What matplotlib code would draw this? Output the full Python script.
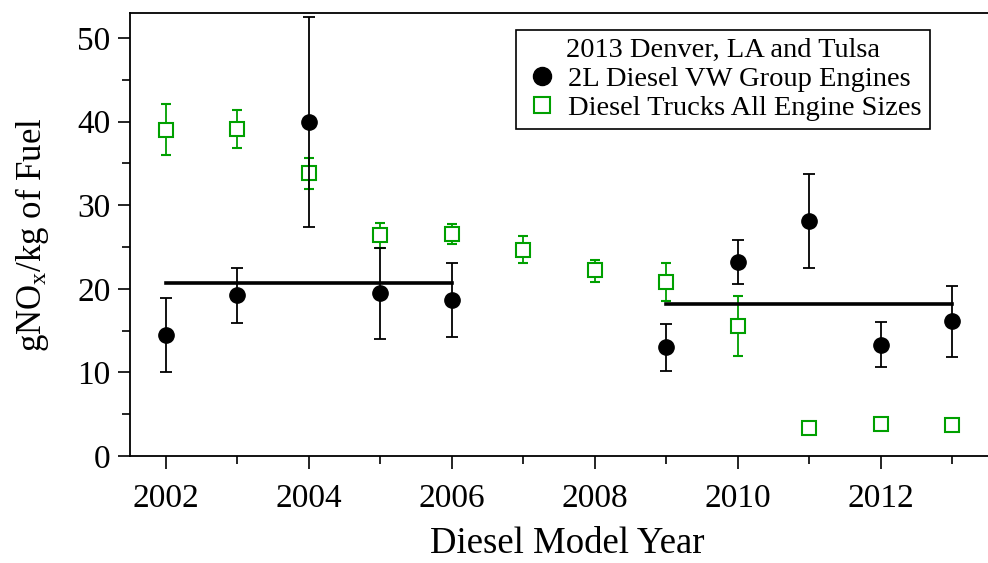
import matplotlib
matplotlib.use("Agg")
import matplotlib.pyplot as plt
from matplotlib.lines import Line2D
from matplotlib.ticker import MultipleLocator

plt.rcParams["font.family"] = ["Liberation Serif", "DejaVu Serif"]
plt.rcParams["mathtext.fontset"] = "custom"
plt.rcParams["mathtext.rm"] = "Liberation Serif"
plt.rcParams["mathtext.it"] = "Liberation Serif:italic"

# 2L diesel VW group engines (mean, lower end, upper end of error bar)
vw_years = [2002, 2003, 2004, 2005, 2006, 2009, 2010, 2011, 2012, 2013]
vw_nox = [14.5, 19.25, 39.9, 19.45, 18.65, 13.05, 23.25, 28.15, 13.3, 16.1]
vw_low = [10.0, 15.95, 27.4, 14.0, 14.2, 10.2, 20.6, 22.5, 10.6, 11.9]
vw_high = [18.9, 22.45, 52.5, 24.9, 23.1, 15.8, 25.8, 33.7, 16.0, 20.3]

# diesel trucks, all engine sizes
truck_years = [2002, 2003, 2004, 2005, 2006, 2007, 2008, 2009, 2010, 2011, 2012, 2013]
truck_nox = [39.05, 39.1, 33.8, 26.4, 26.6, 24.7, 22.2, 20.8, 15.55, 3.3, 3.85, 3.75]
truck_low = [36.0, 36.8, 32.0, 24.9, 25.4, 23.05, 20.85, 18.5, 12.0, 3.1, 3.65, 3.45]
truck_high = [42.05, 41.4, 35.6, 27.9, 27.8, 26.3, 23.5, 23.1, 19.1, 3.5, 4.05, 4.05]

# group means
mean_spans = [(2002, 2006), (2009, 2013)]
mean_values = [20.65, 18.2]

green = "#00A000"

fig = plt.figure(figsize=(9.88, 5.63), dpi=100)
ax = fig.add_axes([0.1316, 0.19, 0.8684, 0.787])

t_err = [[m - lo for m, lo in zip(truck_nox, truck_low)],
         [hi - m for m, hi in zip(truck_nox, truck_high)]]
ax.errorbar(truck_years, truck_nox, yerr=t_err, fmt="s", color=green,
            mfc="white", mec=green, ms=10, mew=1.5, elinewidth=1.3,
            capsize=3.8, capthick=1.3, zorder=3)

v_err = [[m - lo for m, lo in zip(vw_nox, vw_low)],
         [hi - m for m, hi in zip(vw_nox, vw_high)]]
ax.errorbar(vw_years, vw_nox, yerr=v_err, fmt="o", color="black",
            ms=11, elinewidth=1.3, capsize=4, capthick=1.3, zorder=4)

for (x0, x1), m in zip(mean_spans, mean_values):
    ax.plot([x0, x1], [m, m], color="black", lw=2.6, zorder=5)

ax.set_xlim(2001.5, 2013.5)
ax.set_ylim(0, 53)
ax.xaxis.set_major_locator(MultipleLocator(2))
ax.xaxis.set_minor_locator(MultipleLocator(1))
ax.yaxis.set_major_locator(MultipleLocator(10))
ax.yaxis.set_minor_locator(MultipleLocator(5))
ax.tick_params(which="major", direction="out", length=9, width=1.2,
               labelsize=24)
ax.tick_params(axis="x", which="major", pad=11)
ax.tick_params(axis="y", which="major", pad=5)
ax.tick_params(which="minor", direction="out", length=5.5, width=1.2)
ax.spines["right"].set_visible(False)
for s in ["left", "bottom", "top"]:
    ax.spines[s].set_linewidth(1.3)

ax.set_xlabel("Diesel Model Year", fontsize=26.5, labelpad=9, x=0.51)
ax.set_ylabel(r"gNO$_\mathrm{x}$/kg of Fuel", fontsize=25, labelpad=19)

handles = [
    Line2D([], [], ls="none", marker="o", color="black", ms=13),
    Line2D([], [], ls="none", marker="s", mfc="white", mec=green, ms=11, mew=1.5),
]
leg = ax.legend(handles, ["2L Diesel VW Group Engines", "Diesel Trucks All Engine Sizes"],
                title="2013 Denver, LA and Tulsa", loc="upper right",
                bbox_to_anchor=(0.932, 0.962), borderaxespad=0,
                fontsize=20.5, title_fontsize=20.5,
                fancybox=False, framealpha=1, edgecolor="black",
                handletextpad=0.3, handlelength=1.2, borderpad=0.3,
                labelspacing=0.1)
leg.get_frame().set_linewidth(1.2)

fig.savefig("out.png", dpi=100)
